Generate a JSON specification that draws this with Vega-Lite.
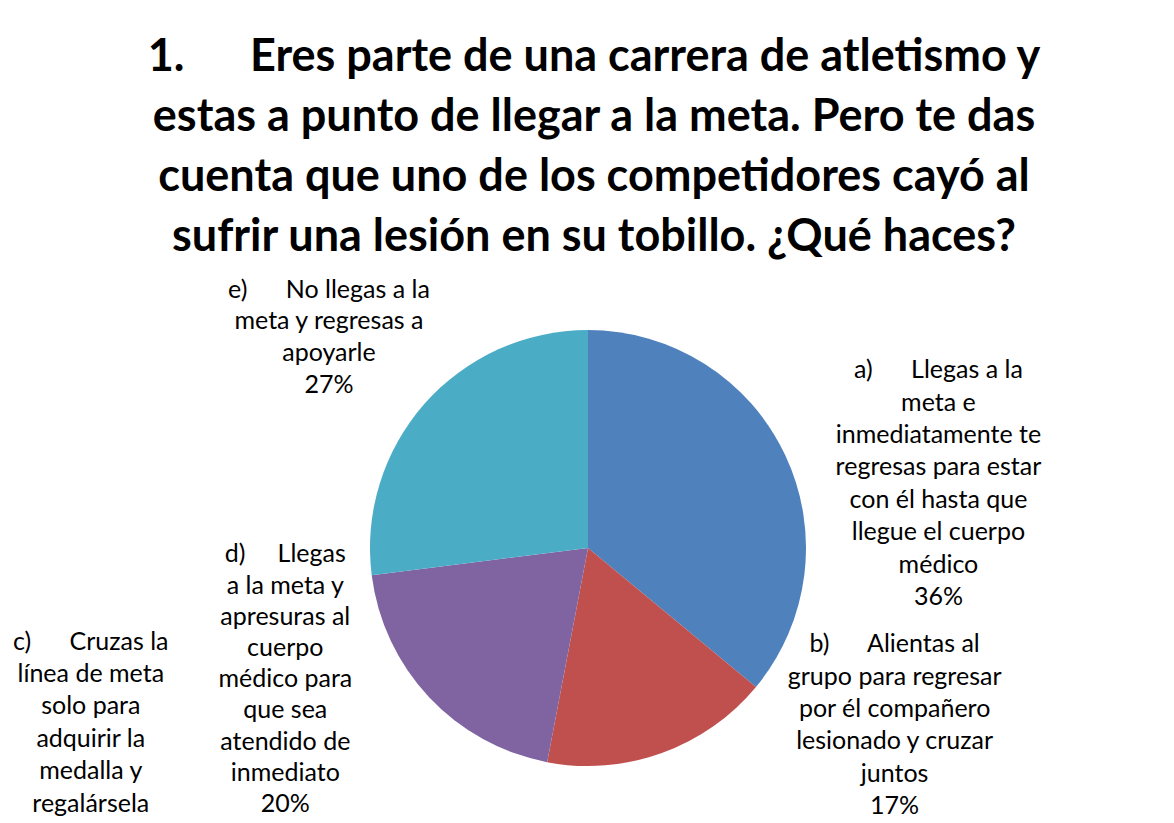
{
  "$schema": "https://vega.github.io/schema/vega-lite/v6.json",
  "width": 1164,
  "height": 1084,
  "autosize": {"type": "none"},
  "padding": {"left": 6, "top": 6, "right": 4, "bottom": 0},
  "background": "white",
  "config": {
    "view": {"stroke": "#8c8c8c", "strokeWidth": 1.5},
    "style": {"cell": {"stroke": "#8c8c8c", "strokeWidth": 1.5}},
    "font": "Lato"
  },
  "title": {
    "text": [
      "1.\u00a0\u00a0\u00a0\u00a0\u00a0\u00a0Eres parte de una carrera de atletismo y",
      "estas a punto de llegar a la meta. Pero te das",
      "cuenta que uno de los competidores cayó al",
      "sufrir una lesión en su tobillo. ¿Qué haces?"
    ],
    "font": "Lato",
    "fontSize": 45,
    "fontWeight": "bold",
    "lineHeight": 60,
    "color": "black",
    "anchor": "middle",
    "frame": "group",
    "baseline": "top",
    "dx": 6,
    "offset": -254
  },
  "data": {
    "values": [
      {"cat": "a", "value": 36, "label": "a)\u00a0\u00a0\u00a0\u00a0\u00a0\u00a0Llegas a la\nmeta e\ninmediatamente te\nregresas para estar\ncon él hasta que\nllegue el cuerpo\nmédico\n36%"},
      {"cat": "b", "value": 17, "label": "b)\u00a0\u00a0\u00a0\u00a0\u00a0\u00a0Alientas al\ngrupo para regresar\npor él compañero\nlesionado y cruzar\njuntos\n17%"},
      {"cat": "c", "value": 0, "label": "c)\u00a0\u00a0\u00a0\u00a0\u00a0\u00a0Cruzas la\nlínea de meta\nsolo para\nadquirir la\nmedalla y\nregalársela\n0%"},
      {"cat": "d", "value": 20, "label": "d)\u00a0\u00a0\u00a0\u00a0\u00a0Llegas\na la meta y\napresuras al\ncuerpo\nmédico para\nque sea\natendido de\ninmediato\n20%"},
      {"cat": "e", "value": 27, "label": "e)\u00a0\u00a0\u00a0\u00a0\u00a0\u00a0No llegas a la\nmeta y regresas a\napoyarle\n27%"}
    ]
  },
  "encoding": {
    "theta": {"field": "value", "type": "quantitative", "stack": true},
    "order": {"field": "cat", "sort": "ascending"},
    "detail": {"field": "cat", "type": "nominal"}
  },
  "layer": [
    {
      "mark": {"type": "arc", "radius": 218},
      "encoding": {
        "color": {
          "field": "cat",
          "type": "nominal",
          "scale": {"domain": ["a", "b", "c", "d", "e"], "range": ["#4F81BD", "#C0504D", "#9BBB59", "#8064A2", "#4BACC6"]},
          "legend": null
        }
      }
    },
    {
      "mark": {"type": "text", "radius": 300, "dx": 79, "dy": -42, "fontSize": 25, "lineHeight": 32.4, "lineBreak": "\n", "align": "center", "baseline": "alphabetic", "color": "black"},
      "encoding": {"text": {"condition": {"test": "datum.cat === 'a'", "field": "label", "type": "nominal"}, "value": ""}}
    },
    {
      "mark": {"type": "text", "radius": 300, "dx": 205, "dy": -178, "fontSize": 25, "lineHeight": 32.4, "lineBreak": "\n", "align": "center", "baseline": "alphabetic", "color": "black"},
      "encoding": {"text": {"condition": {"test": "datum.cat === 'b'", "field": "label", "type": "nominal"}, "value": ""}}
    },
    {
      "mark": {"type": "text", "radius": 300, "dx": -441, "dy": -193, "fontSize": 25, "lineHeight": 32.4, "lineBreak": "\n", "align": "center", "baseline": "alphabetic", "color": "black"},
      "encoding": {"text": {"condition": {"test": "datum.cat === 'c'", "field": "label", "type": "nominal"}, "value": ""}}
    },
    {
      "mark": {"type": "text", "radius": 300, "dx": -84, "dy": -191, "fontSize": 25, "lineHeight": 31.2, "lineBreak": "\n", "align": "center", "baseline": "alphabetic", "color": "black"},
      "encoding": {"text": {"condition": {"test": "datum.cat === 'd'", "field": "label", "type": "nominal"}, "value": ""}}
    },
    {
      "mark": {"type": "text", "radius": 300, "dx": -34, "dy": -52, "fontSize": 25, "lineHeight": 31.7, "lineBreak": "\n", "align": "center", "baseline": "alphabetic", "color": "black"},
      "encoding": {"text": {"condition": {"test": "datum.cat === 'e'", "field": "label", "type": "nominal"}, "value": ""}}
    }
  ]
}
